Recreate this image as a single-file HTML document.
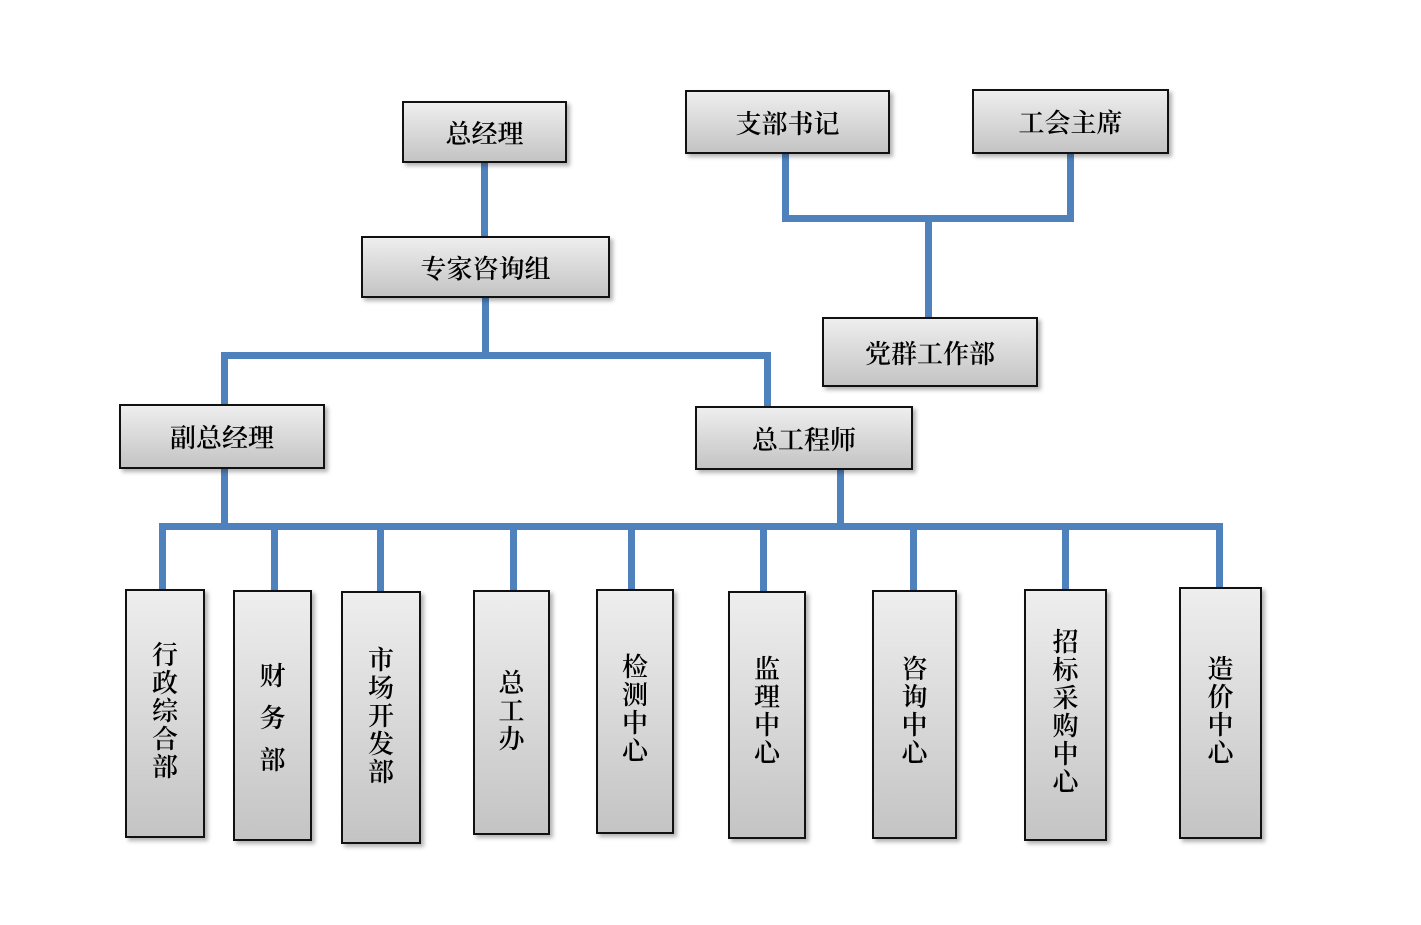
<!DOCTYPE html>
<html><head><meta charset="utf-8"><style>
body{margin:0;width:1421px;height:925px;background:#fff;position:relative;overflow:hidden;font-family:"Liberation Serif","Noto Serif CJK SC",serif;}
.b{position:absolute;box-sizing:border-box;border:2px solid #111;background:linear-gradient(#eeeeee,#c4c4c4);box-shadow:3px 3px 4px rgba(0,0,0,0.3);display:flex;align-items:center;justify-content:center;font-size:26px;font-weight:600;color:#000;}
.v{align-items:flex-start;text-align:center;line-height:28px;}
.l{position:absolute;background:#4f81bd;}
</style></head><body>
<div class="l" style="left:481px;top:160px;width:7px;height:78px"></div>
<div class="l" style="left:782px;top:152px;width:7px;height:70px"></div>
<div class="l" style="left:1067px;top:152px;width:7px;height:70px"></div>
<div class="l" style="left:782px;top:215px;width:292px;height:7px"></div>
<div class="l" style="left:925px;top:215px;width:7px;height:104px"></div>
<div class="l" style="left:482px;top:296px;width:7px;height:60px"></div>
<div class="l" style="left:221px;top:352px;width:549px;height:7px"></div>
<div class="l" style="left:221px;top:352px;width:7px;height:54px"></div>
<div class="l" style="left:764px;top:352px;width:7px;height:56px"></div>
<div class="l" style="left:221px;top:467px;width:7px;height:62px"></div>
<div class="l" style="left:837px;top:468px;width:7px;height:61px"></div>
<div class="l" style="left:159px;top:523px;width:1064px;height:7px"></div>
<div class="l" style="left:159px;top:523px;width:7px;height:68px"></div>
<div class="l" style="left:271px;top:523px;width:7px;height:69px"></div>
<div class="l" style="left:377px;top:523px;width:7px;height:70px"></div>
<div class="l" style="left:510px;top:523px;width:7px;height:69px"></div>
<div class="l" style="left:628px;top:523px;width:7px;height:68px"></div>
<div class="l" style="left:760px;top:523px;width:7px;height:70px"></div>
<div class="l" style="left:910px;top:523px;width:7px;height:69px"></div>
<div class="l" style="left:1062px;top:523px;width:7px;height:68px"></div>
<div class="l" style="left:1216px;top:523px;width:7px;height:66px"></div>
<div class="b" style="left:402px;top:101px;width:165px;height:62px">总经理</div>
<div class="b" style="left:685px;top:90px;width:205px;height:64px">支部书记</div>
<div class="b" style="left:972px;top:89px;width:197px;height:65px">工会主席</div>
<div class="b" style="left:361px;top:236px;width:249px;height:62px">专家咨询组</div>
<div class="b" style="left:822px;top:317px;width:216px;height:70px">党群工作部</div>
<div class="b" style="left:119px;top:404px;width:206px;height:65px">副总经理</div>
<div class="b" style="left:695px;top:406px;width:218px;height:64px">总工程师</div>
<div class="b v" style="left:125px;top:589px;width:80px;height:249px;padding-top:51px">行<br>政<br>综<br>合<br>部</div>
<div class="b v" style="left:233px;top:590px;width:79px;height:251px;padding-top:64px;line-height:42px">财<br>务<br>部</div>
<div class="b v" style="left:341px;top:591px;width:80px;height:253px;padding-top:54px">市<br>场<br>开<br>发<br>部</div>
<div class="b v" style="left:473px;top:590px;width:77px;height:245px;padding-top:78px">总<br>工<br>办</div>
<div class="b v" style="left:596px;top:589px;width:78px;height:245px;padding-top:63px">检<br>测<br>中<br>心</div>
<div class="b v" style="left:728px;top:591px;width:78px;height:248px;padding-top:63px">监<br>理<br>中<br>心</div>
<div class="b v" style="left:872px;top:590px;width:85px;height:249px;padding-top:64px">咨<br>询<br>中<br>心</div>
<div class="b v" style="left:1024px;top:589px;width:83px;height:252px;padding-top:38px">招<br>标<br>采<br>购<br>中<br>心</div>
<div class="b v" style="left:1179px;top:587px;width:83px;height:252px;padding-top:67px">造<br>价<br>中<br>心</div>
</body></html>
